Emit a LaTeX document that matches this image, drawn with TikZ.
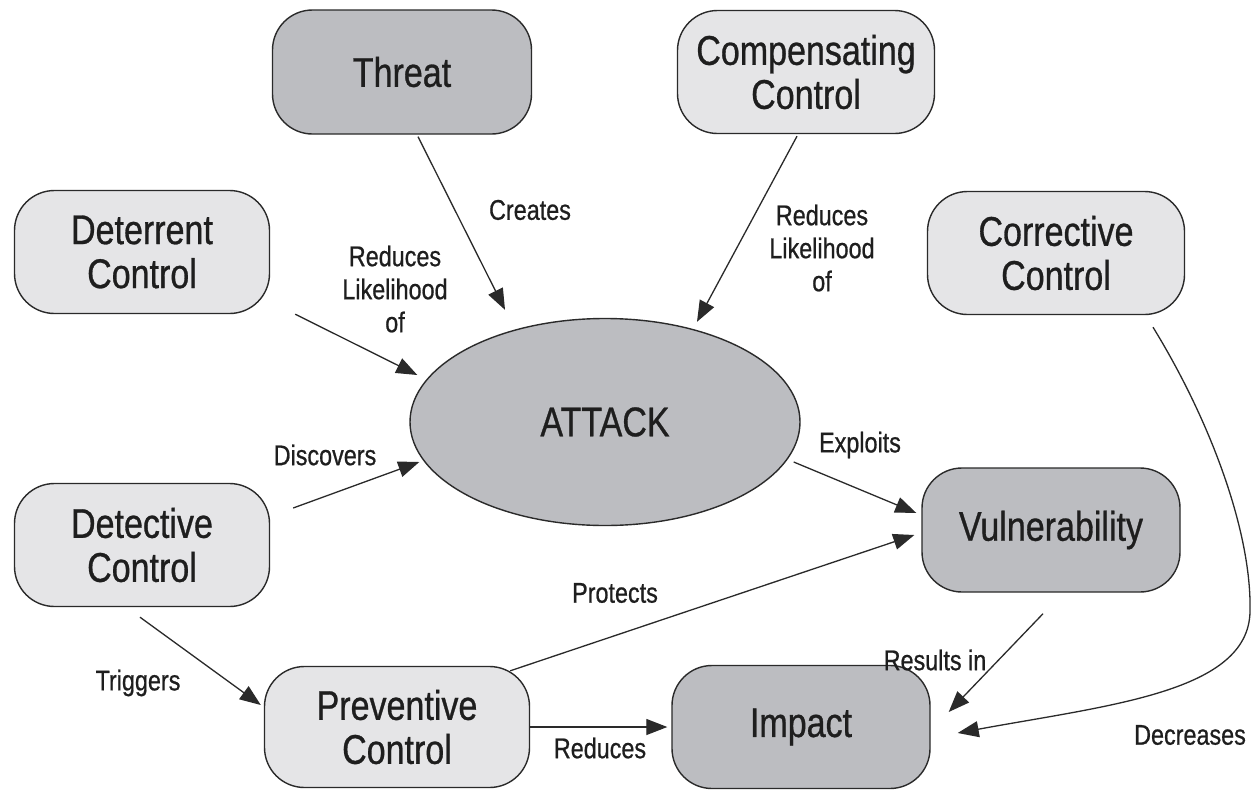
\documentclass[tikz,border=0pt]{standalone}
\usepackage{fontspec}
\setmainfont{Liberation Sans}[FakeStretch=0.82,FakeBold=0.7]
\usetikzlibrary{arrows.meta,calc,shapes.geometric}
\definecolor{darkfill}{HTML}{BCBDC1}
\definecolor{lightfill}{HTML}{E5E5E7}
\definecolor{edgecol}{HTML}{2A2A2A}
\definecolor{txtcol}{HTML}{1E1E1E}
\tikzset{
  box/.style={draw=edgecol, line width=1.4pt, rounded corners=40pt, align=center,
    font=\fontsize{41.5}{44}\selectfont, inner sep=0pt, text=txtcol},
  darkbox/.style={box, fill=darkfill},
  lightbox/.style={box, fill=lightfill},
  lbl/.style={font=\fontsize{28.5}{33}\selectfont, align=center, text=txtcol},
  arr/.style={draw=edgecol, line width=1.3pt, -{Triangle[length=21pt,width=16pt]}}
}
\begin{document}
\begin{tikzpicture}[x=1pt,y=-1pt]
\useasboundingbox (0,0) rectangle (1252,790);
\fill[white] (0,0) rectangle (1252,790);
% nodes
\node[darkbox, minimum width=259pt, minimum height=124pt] (threat) at (402,72) {Threat};
\node[lightbox, minimum width=257pt, minimum height=123pt] (comp) at (806,72) {Compensating\\Control};
\node[lightbox, minimum width=255pt, minimum height=123pt] (deter) at (142,252) {Deterrent\\Control};
\node[lightbox, minimum width=257pt, minimum height=123pt] (corr) at (1056,253) {Corrective\\Control};
\node[ellipse, draw=edgecol, line width=1.4pt, fill=darkfill, minimum width=390pt, minimum height=207pt, inner sep=0pt,
  font=\fontsize{41.5}{44}\selectfont, text=txtcol] (attack) at (605,422) {ATTACK};
\node[lightbox, minimum width=255pt, minimum height=123pt] (detect) at (142,545) {Detective\\Control};
\node[darkbox, minimum width=258pt, minimum height=124pt] (vuln) at (1051,530) {Vulnerability};
\node[lightbox, minimum width=265pt, minimum height=121pt] (prev) at (397,727) {Preventive\\Control};
\node[darkbox, minimum width=258pt, minimum height=123pt] (impact) at (801,727) {Impact};
% connectors
\draw[arr] ($(threat.south)+(16,2)$) -- ($(attack.north)+(-100,-8)$);
\draw[arr] ($(comp.south)+(-9,2)$) -- ($(attack.north)+(92,4)$);
\draw[arr] ($(deter.south east)+(25,0)$) -- ($(attack.west)+(8,-47)$);
\draw[arr] ($(detect.east)+(23,-37)$) -- ($(attack.west)+(10,40)$);
\draw[arr] ($(attack.east)+(-7,40)$) -- ($(vuln.west)+(-5,-17)$);
\draw[arr] ($(prev.north east)+(-20,5)$) -- ($(vuln.west)+(-7,5)$);
\draw[arr] ($(detect.south)+(-2,10)$) -- ($(prev.west)+(-3,-22)$);
\draw[arr] (prev.east) -- ($(impact.west)+(-4,0)$);
\draw[arr] ($(vuln.south)+(-8,21)$) -- ($(impact.east)+(18,-15)$);
\coordinate (bend) at (1250,612);
\draw[arr] ($(corr.south)+(97,12)$) .. controls (1210,420) and (1252,532) .. (bend)
  .. controls (1248,692) and (1110,705) .. ($(impact.east)+(27,6)$);
% labels
\node[lbl] (lcreates) at (530,210) {Creates};
\node[lbl] (lcomp) at (822,248) {Reduces\\Likelihood\\of};
\node[lbl] (ldeter) at (395,289) {Reduces\\Likelihood\\of};
\node[lbl] (ldisc) at (325,455) {Discovers};
\node[lbl] (lexpl) at (860,445) {Exploits};
\node[lbl] (lprot) at (615,593) {Protects};
\node[lbl] (ltrig) at (138,683) {Triggers};
\node[lbl] (lred) at (600,748) {Reduces};
\node[lbl] (lres) at (935,660) {Results in};
\node[lbl] (ldecr) at (1190,735) {Decreases};
\end{tikzpicture}
\end{document}
